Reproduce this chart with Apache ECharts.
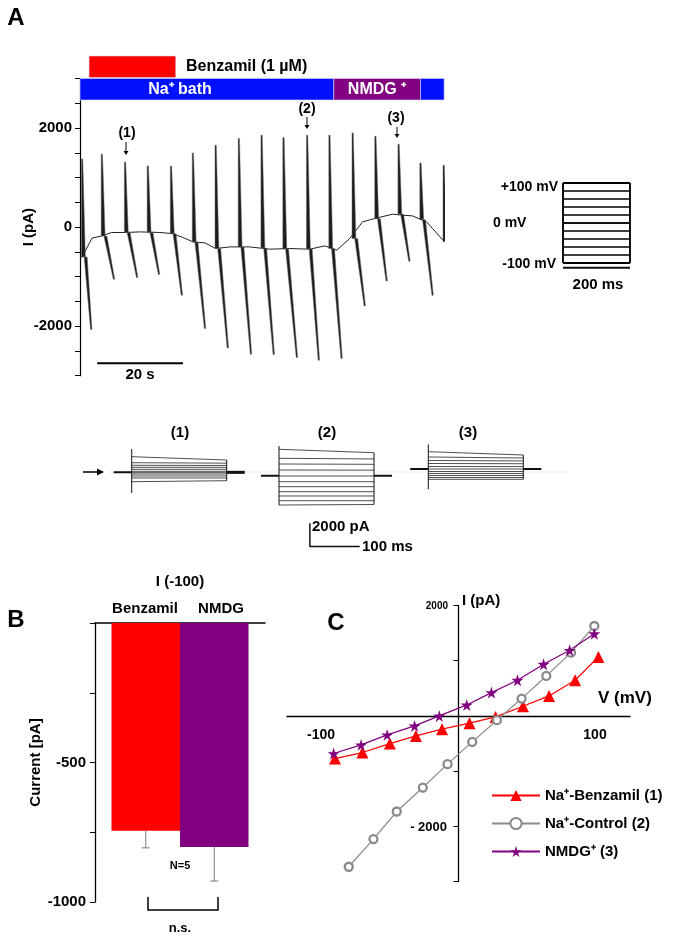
<!DOCTYPE html>
<html>
<head>
<meta charset="utf-8">
<script src="https://cdn.jsdelivr.net/npm/echarts@6/dist/echarts.min.js"></script>
<style>
  html, body { margin: 0; padding: 0; background: #fff; }
  #chart { width: 685px; height: 942px; }
</style>
</head>
<body>
<div id="chart"></div>
<script>
const FONT = '"Liberation Sans", Arial, sans-serif';

// ---- panel A, continuous recording (time in s, current in pA) ----
const drugSpan = [2.1, 22.3];                       // benzamil application
const bathSpans = [[0, 59.1], [59.1, 79.3], [79.3, 84.8]];
const bathNames = ['Na', 'NMDG', 'Na'];

const holdT = [0, 0.5, 2.8, 4.7, 7.4, 10.5, 14, 18.6, 21.4, 24, 26.3, 29.1, 31.6, 34.9, 39.5, 44.2, 48.8, 53.5, 57, 59.8, 62.8, 65.8, 68.6, 72.8, 75.1, 77.4, 80.7, 82.1, 84.9];
const holdI = [-600, -600, -222, -182, -107, -107, -95, -107, -128, -208, -297, -317, -430, -398, -398, -444, -430, -444, -377, -465, -229, 108, 175, 263, 242, 229, 108, -27, -297];

const sweepT = [0.5, 5.1, 10.5, 15.8, 21.2, 26.3, 31.6, 37.0, 42.3, 47.4, 52.9, 58.1, 63.5, 68.8, 74.2, 79.3, 84.7];
const sweepPeak = [1380, 1475, 1319, 1238, 1238, 1501, 1657, 1792, 1859, 1812, 1859, 1859, 1905, 1838, 1677, 1299, 1253];
const sweepHold = [-600, -180, -107, -100, -130, -300, -430, -400, -420, -440, -440, -430, -230, 170, 260, 150, -290];
const troughT = [2.6, 7.9, 13.3, 18.4, 23.7, 29.1, 34.4, 39.8, 45.1, 50.5, 55.6, 60.9, 66.3, 71.4, 76.7, 82.1];
const sweepTrough = [-2067, -1051, -1016, -956, -1374, -2047, -2438, -2566, -2572, -2633, -2687, -2653, -1590, -1085, -687, -1374];

// ---- voltage protocol (mV) ----
const protoV = [100, 80, 60, 40, 20, 0, -20, -40, -60, -80, -100];
const stepDur = 200;

// ---- example current families (pA at step start / end) ----
const stepStart1 = [1313, 798, 575, 403, 232, 60, -60, -172, -343, -515, -833];
const stepEnd1   = [1030, 760, 560, 400, 232, 60, -60, -172, -343, -515, -747];
const hold1 = -30, edge1 = [1974, -1803];
const stepStart2 = [1948, 1176, 687, 172, -343, -833, -1262, -1691, -2060, -2464, -2833];
const stepEnd2   = [1657, 1120, 660, 160, -343, -833, -1262, -1691, -2060, -2464, -2790];
const hold2 = -318, edge2 = [2232, -2833];
const stepStart3 = [1743, 1288, 987, 730, 472, 258, 43, -129, -300, -472, -627];
const stepEnd3   = [1459, 1200, 950, 710, 465, 258, 43, -129, -300, -472, -627];
const hold3 = 258, edge3 = [2378, -1485];

// ---- panel B ----
const bNames = ['Benzamil', 'NMDG'];
const bMean = [-745, -803];
const bErr = [61, 122];

// ---- panel C, I-V curves ----
const vBenz = [-90, -70, -50, -31, -12, 8, 27, 47, 66, 85, 102];
const iBenz = [-773, -664, -501, -362, -241, -132, -18, 176, 362, 646, 1068];
const vCtrl = [-80, -62, -45, -26, -8, 10, 28, 46, 64, 82, 99];
const iCtrl = [-2733, -2232, -1732, -1298, -874, -471, -78, 313, 724, 1146, 1629];
const vNmdg = [-91, -71, -52, -32, -14, 6, 24, 43, 62, 81, 99];
const iNmdg = [-682, -525, -344, -181, 0, 199, 422, 646, 936, 1189, 1489];
const cTickV = [-100, 100];
const cTickI = [2000, -2000];

const RED = '#ff0000', BLUE = '#0010ff', PURPLE = '#80007f', GRAY = '#8a8a8a';
const STAR = 'path://M50,0 L61,35 L98,35 L68,57 L79,91 L50,70 L21,91 L32,57 L2,35 L39,35 Z';

const pairs = (xs, ys) => xs.map((x, i) => [x, ys[i]]);

// ---- text + arrows ----
const graphics = [];
function label(text, x, y, size, align, color) {
  graphics.push({ type: 'text', x: x, y: y, z: 100, style: {
    text: text, fontSize: size, fontWeight: 'bold', fontFamily: FONT,
    fill: color || '#000', align: align || 'center', verticalAlign: 'middle' } });
}
function downArrow(x, y1, y2) {
  graphics.push({ type: 'line', z: 100, shape: { x1: x, y1: y1, x2: x, y2: y2 - 3 }, style: { stroke: '#000', lineWidth: 1 } });
  graphics.push({ type: 'polygon', z: 100, shape: { points: [[x - 2.5, y2 - 4], [x + 2.5, y2 - 4], [x, y2]] }, style: { fill: '#000' } });
}

label('A', 16, 18, 24);
label('Benzamil (1 µM)', 186, 67, 16, 'left');
label('Na⁺ bath', 180, 90, 16, 'center', '#fff');
label('NMDG ⁺', 377, 90, 16, 'center', '#fff');
label('(1)', 127, 133, 14); downArrow(126, 142, 155);
label('(2)', 307, 109, 14); downArrow(307, 117, 129);
label('(3)', 396, 118, 14); downArrow(397, 127, 138);
label('20 s', 140, 375, 15);
label('+100 mV', 558, 187, 14, 'right');
label('0 mV', 493, 223, 14, 'left');
label('-100 mV', 556, 264, 14, 'right');
label('200 ms', 598, 285, 15);
label('(1)', 180, 433, 15);
label('(2)', 327, 433, 15);
label('(3)', 468, 433, 15);
label('2000 pA', 312, 527, 15, 'left');
label('100 ms', 362, 547, 15, 'left');
graphics.push({ type: 'line', z: 1, shape: { x1: 108, y1: 472, x2: 568, y2: 472 }, style: { stroke: '#ececec', lineWidth: 1 } });
graphics.push({ type: 'line', z: 100, shape: { x1: 83, y1: 472, x2: 98, y2: 472 }, style: { stroke: '#000', lineWidth: 1.5 } });
graphics.push({ type: 'polygon', z: 100, shape: { points: [[97, 468.5], [97, 475.5], [104, 472]] }, style: { fill: '#000' } });
label('B', 16, 620, 24);
label('I (-100)', 180, 582, 15);
label(bNames[0], 145, 609, 15);
label(bNames[1], 221, 609, 15);
label('N=5', 180, 866, 11);
graphics.push({ type: 'polyline', z: 100, shape: { points: [[148, 897], [148, 910], [218, 910], [218, 897]] }, style: { stroke: '#000', lineWidth: 1.5, fill: null } });
label('n.s.', 180, 928, 13);
label('C', 336, 623, 24);
label('I (pA)', 462, 601, 15, 'left');
label('V (mV)', 598, 698, 17, 'left');
// panel C tick labels (axis labels stay at the grid edge, so they are placed by the axis crossing)
label(String(cTickV[0]), 321, 735, 14);
label(String(cTickV[1]), 595, 735, 14);
label(String(cTickI[0]), 448, 606, 10, 'right');
label('- ' + String(-cTickI[1]), 447, 827, 13, 'right');

// ---- render helpers ----
function sweepRender(params, api) {
  const top = api.coord([api.value(0), api.value(1)]);
  const base = api.coord([api.value(0), api.value(2)]);
  const bot = api.coord([api.value(3), api.value(4)]);
  const st = { fill: '#1c1c1c', stroke: '#6a6a6a', lineWidth: 0.5 };
  return { type: 'group', children: [
    { type: 'polygon', shape: { points: [[top[0] - 0.7, base[1]], [top[0] - 0.7, top[1]], [top[0] + 0.6, top[1]], [top[0] + 3.2, base[1]]] }, style: st },
    { type: 'polygon', shape: { points: [[top[0] + 2, base[1]], [top[0] + 5, base[1]], [bot[0] + 0.8, bot[1]], [bot[0] - 0.6, bot[1]]] }, style: st }
  ] };
}
function rowRender(params, api) {
  const s = api.coord([api.value(0), api.value(2)]);
  const e = api.coord([api.value(1), api.value(2)]);
  const h = api.size([0, 1])[1];
  return { type: 'rect', shape: { x: s[0], y: s[1] - h / 2, width: e[0] - s[0], height: h - 1 },
    style: { fill: api.visual('color'), stroke: '#d8d8ff', lineWidth: 0.6 } };
}
function protoRender(params, api) {
  const a = api.coord([0, api.value(0)]);
  const b = api.coord([stepDur, api.value(0)]);
  const edge = api.value(0) === 100 || api.value(0) === -100;
  return { type: 'line', shape: { x1: a[0], y1: a[1], x2: b[0], y2: b[1] }, style: { stroke: '#000', lineWidth: edge ? 2 : 1.4 } };
}
function stepRender(params, api) {
  const a = api.coord([0, api.value(0)]);
  const b = api.coord([stepDur, api.value(1)]);
  return { type: 'line', shape: { x1: a[0], y1: a[1], x2: b[0], y2: b[1] }, style: { stroke: '#3a3a3a', lineWidth: 0.9 } };
}
function errRender(dx) {
  return function (params, api) {
    const p1 = api.coord([api.value(0), api.value(1)]);
    const p2 = api.coord([api.value(0), api.value(1) - api.value(2)]);
    const x = p1[0] + dx;
    return { type: 'group', children: [
      { type: 'line', shape: { x1: x, y1: p1[1], x2: x, y2: p2[1] }, style: { stroke: '#7a7a7a', lineWidth: 1 } },
      { type: 'line', shape: { x1: x - 4, y1: p2[1], x2: x + 4, y2: p2[1] }, style: { stroke: '#7a7a7a', lineWidth: 1 } }
    ] };
  };
}
const seg = (ax, data, w) => ({ type: 'line', xAxisIndex: ax, yAxisIndex: ax, data: data, symbol: 'none', clip: false,
  lineStyle: { color: '#111', width: w || 1 }, silent: true, animation: false });

function traceSeries(ax, start, end, hold, edge) {
  return [
    { type: 'custom', xAxisIndex: ax, yAxisIndex: ax, renderItem: stepRender, data: pairs(start, end), clip: false },
    seg(ax, [[0, edge[0]], [0, edge[1]]], 1),
    seg(ax, [[stepDur, end[0]], [stepDur, end[end.length - 1]]], 1),
    seg(ax, [[-38, hold], [0, hold]], 2),
    seg(ax, [[stepDur, hold], [stepDur + 38, hold]], ax === 3 ? 3 : 2)
  ];
}

const sweepData = sweepT.map((t, i) => i < troughT.length
  ? [t, sweepPeak[i], sweepHold[i], troughT[i], sweepTrough[i]]
  : [t, sweepPeak[i], sweepHold[i], t, sweepHold[i]]);

const rowData = [{ value: [drugSpan[0], drugSpan[1], 0], itemStyle: { color: RED } }]
  .concat(bathSpans.map((s, i) => ({ value: [s[0], s[1], 1], itemStyle: { color: bathNames[i] === 'NMDG' ? PURPLE : BLUE } })));

const axisText = { fontFamily: FONT, fontWeight: 'bold', color: '#000' };
const hidden = (g, min, max) => ({ gridIndex: g, type: 'value', min: min, max: max, show: false });
const traceGrid = left => ({ left: left, top: 425.4, width: 133, height: 128.15, outerBoundsMode: 'none' });

const option = {
  animation: false,
  backgroundColor: '#fff',
  textStyle: { fontFamily: FONT },
  grid: [
    { left: 80, top: 56, width: 365, height: 45, outerBoundsMode: 'none' },
    { left: 80, top: 78.7, width: 365, height: 297, outerBoundsMode: 'none' },
    { left: 563, top: 183, width: 67, height: 80, outerBoundsMode: 'none' },
    traceGrid(112.7), traceGrid(260), traceGrid(409.3),
    { left: 95, top: 623, width: 170, height: 279, outerBoundsMode: 'none' },
    { left: 287, top: 605.5, width: 343, height: 276, outerBoundsMode: 'none' }
  ],
  xAxis: [
    hidden(0, 0, 85), hidden(1, 0, 85), hidden(2, 0, stepDur),
    hidden(3, -40, 240), hidden(4, -40, 240), hidden(5, -40, 240),
    { gridIndex: 6, type: 'category', data: [''],
      axisLine: { onZero: true, lineStyle: { color: '#000', width: 1.5 } },
      axisTick: { show: false }, axisLabel: { show: false }, splitLine: { show: false } },
    { gridIndex: 7, type: 'value', min: -125, max: 125,
      axisLine: { onZero: true, lineStyle: { color: '#000', width: 1.3 } },
      axisTick: { show: false }, splitLine: { show: false }, axisLabel: { show: false } }
  ],
  yAxis: [
    { gridIndex: 0, type: 'category', data: ['drug', 'bath'], inverse: true, show: false },
    { gridIndex: 1, type: 'value', min: -3000, max: 3000, interval: 500,
      name: 'I (pA)', nameLocation: 'middle', nameGap: 44, nameRotate: 90, nameMoveOverlap: false,
      nameTextStyle: { ...axisText, fontSize: 15 },
      axisLine: { show: true, lineStyle: { color: '#000', width: 1.2 } },
      axisTick: { show: true, length: 5, lineStyle: { color: '#000' } },
      splitLine: { show: false },
      axisLabel: { ...axisText, fontSize: 15, margin: 8,
        formatter: v => (v === 2000 || v === 0 || v === -2000) ? String(v) : '' } },
    hidden(2, -100, 100),
    hidden(3, -7000, 4000), hidden(4, -7000, 4000), hidden(5, -7000, 4000),
    { gridIndex: 6, type: 'value', min: -1000, max: 0, interval: 250,
      name: 'Current [pA]', nameLocation: 'middle', nameGap: 52, nameRotate: 90, nameMoveOverlap: false,
      nameTextStyle: { ...axisText, fontSize: 15 },
      axisLine: { show: true, onZero: false, lineStyle: { color: '#000', width: 1.3 } },
      axisTick: { show: true, length: 5, lineStyle: { color: '#000' } },
      splitLine: { show: false },
      axisLabel: { ...axisText, fontSize: 15, margin: 9,
        formatter: v => (v === -500 || v === -1000) ? String(v) : '' } },
    { gridIndex: 7, type: 'value', min: -3000, max: 2000, interval: 1000,
      axisLine: { show: true, onZero: true, lineStyle: { color: '#000', width: 1.3 } },
      axisTick: { show: true, length: 5, lineStyle: { color: '#000' } },
      splitLine: { show: false }, axisLabel: { show: false } }
  ],
  legend: {
    orient: 'vertical', left: 486, top: 783, itemWidth: 48, itemHeight: 14, itemGap: 13,
    textStyle: { fontFamily: FONT, fontWeight: 'bold', fontSize: 15, color: '#000' },
    data: ['Na⁺-Benzamil (1)', 'Na⁺-Control (2)', 'NMDG⁺ (3)']
  },
  graphic: graphics,
  series: [
    { type: 'custom', xAxisIndex: 0, yAxisIndex: 0, renderItem: rowRender, data: rowData },
    { type: 'line', xAxisIndex: 1, yAxisIndex: 1, data: pairs(holdT, holdI), symbol: 'none',
      lineStyle: { color: '#222', width: 1 }, z: 2 },
    { type: 'custom', xAxisIndex: 1, yAxisIndex: 1, renderItem: sweepRender, data: sweepData, clip: true, z: 3 },
    { type: 'line', xAxisIndex: 1, yAxisIndex: 1, data: [[4, -2750], [24, -2750]], symbol: 'none',
      lineStyle: { color: '#000', width: 2 } },
    { type: 'custom', xAxisIndex: 2, yAxisIndex: 2, renderItem: protoRender, data: protoV.map(v => [v]), clip: false },
    seg(2, [[0, -100], [0, 100]], 2),
    seg(2, [[stepDur, -100], [stepDur, 100]], 2),
    seg(2, [[-36, 0], [233, 0]], 2),
    seg(2, [[0, -112], [stepDur, -112]], 2),
    ...traceSeries(3, stepStart1, stepEnd1, hold1, edge1),
    ...traceSeries(4, stepStart2, stepEnd2, hold2, edge2),
    ...traceSeries(5, stepStart3, stepEnd3, hold3, edge3),
    seg(4, [[65, -4400], [65, -6400], [170, -6400]], 1.5),
    { type: 'bar', name: bNames[0], xAxisIndex: 6, yAxisIndex: 6, data: [bMean[0]], barWidth: 68.5, barGap: '0%',
      itemStyle: { color: RED } },
    { type: 'bar', name: bNames[1], xAxisIndex: 6, yAxisIndex: 6, data: [bMean[1]], barWidth: 68.5, barGap: '0%',
      itemStyle: { color: PURPLE } },
    { type: 'custom', xAxisIndex: 6, yAxisIndex: 6, renderItem: errRender(-34.25), data: [[0, bMean[0], bErr[0]]], z: 5 },
    { type: 'custom', xAxisIndex: 6, yAxisIndex: 6, renderItem: errRender(34.25), data: [[0, bMean[1], bErr[1]]], z: 5 },
    { type: 'line', name: 'Na⁺-Benzamil (1)', xAxisIndex: 7, yAxisIndex: 7, data: pairs(vBenz, iBenz),
      symbol: 'triangle', symbolSize: 12, itemStyle: { color: RED }, lineStyle: { color: RED, width: 1.2 } },
    { type: 'line', name: 'Na⁺-Control (2)', xAxisIndex: 7, yAxisIndex: 7, data: pairs(vCtrl, iCtrl),
      symbol: 'circle', symbolSize: 8, itemStyle: { color: '#fff', borderColor: GRAY, borderWidth: 2.3 },
      lineStyle: { color: GRAY, width: 1.2 } },
    { type: 'line', name: 'NMDG⁺ (3)', xAxisIndex: 7, yAxisIndex: 7, data: pairs(vNmdg, iNmdg),
      symbol: STAR, symbolSize: 12, itemStyle: { color: PURPLE }, lineStyle: { color: PURPLE, width: 1.2 } }
  ]
};

const chart = echarts.init(document.getElementById('chart'));
chart.setOption(option);
</script>
</body>
</html>
